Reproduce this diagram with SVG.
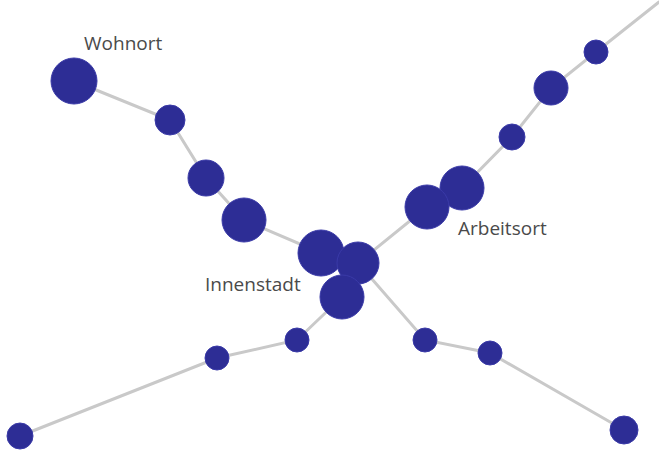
<svg xmlns="http://www.w3.org/2000/svg" width="659" height="454" viewBox="0 0 659 454">
<style>
.e{stroke:#c9c9c9;stroke-width:3;fill:none;stroke-linecap:round}
.n{fill:#2d2d95;stroke:#3a3aa8;stroke-width:1}
.t{font-family:"Open Sans","Liberation Sans",sans-serif;font-size:19px;fill:#4a4a4a}
</style>
<rect width="659" height="454" fill="#ffffff"/>
<g id="connectors">
<polyline class="e" points="74,81 170,120 206,178 244,220 321,253 358,263"/>
<polyline class="e" points="659,2 596,52 551,88 512,137 462,188 427,207 358,263"/>
<polyline class="e" points="358,263 425,340 490,353 624,430"/>
<polyline class="e" points="342,297 297,340 217,358 20,436"/>
</g>
<g id="wohnort"><circle class="n" cx="74" cy="81" r="23"/><text class="t" x="84" y="50">Wohnort</text></g>
<g id="w2"><circle class="n" cx="170" cy="120" r="15"/></g>
<g id="w3"><circle class="n" cx="206" cy="178" r="18"/></g>
<g id="w4"><circle class="n" cx="244" cy="220" r="22"/></g>
<g id="innenstadt">
<circle class="n" cx="321" cy="253" r="23"/>
<circle class="n" cx="358" cy="263" r="21"/>
<circle class="n" cx="342" cy="297" r="22"/>
<text class="t" x="205" y="291">Innenstadt</text>
</g>
<g id="arbeitsort">
<circle class="n" cx="462" cy="188" r="22"/>
<circle class="n" cx="427" cy="207" r="22"/>
<text class="t" x="458" y="235">Arbeitsort</text>
</g>
<g id="a2"><circle class="n" cx="512" cy="137" r="13"/></g>
<g id="a3"><circle class="n" cx="551" cy="88" r="17"/></g>
<g id="a4"><circle class="n" cx="596" cy="52" r="12"/></g>
<g id="s1"><circle class="n" cx="297" cy="340" r="12"/></g>
<g id="s2"><circle class="n" cx="217" cy="358" r="12"/></g>
<g id="s3"><circle class="n" cx="20" cy="436" r="13"/></g>
<g id="e1"><circle class="n" cx="425" cy="340" r="12"/></g>
<g id="e2"><circle class="n" cx="490" cy="353" r="12"/></g>
<g id="e3"><circle class="n" cx="624" cy="430" r="14"/></g>
</svg>
